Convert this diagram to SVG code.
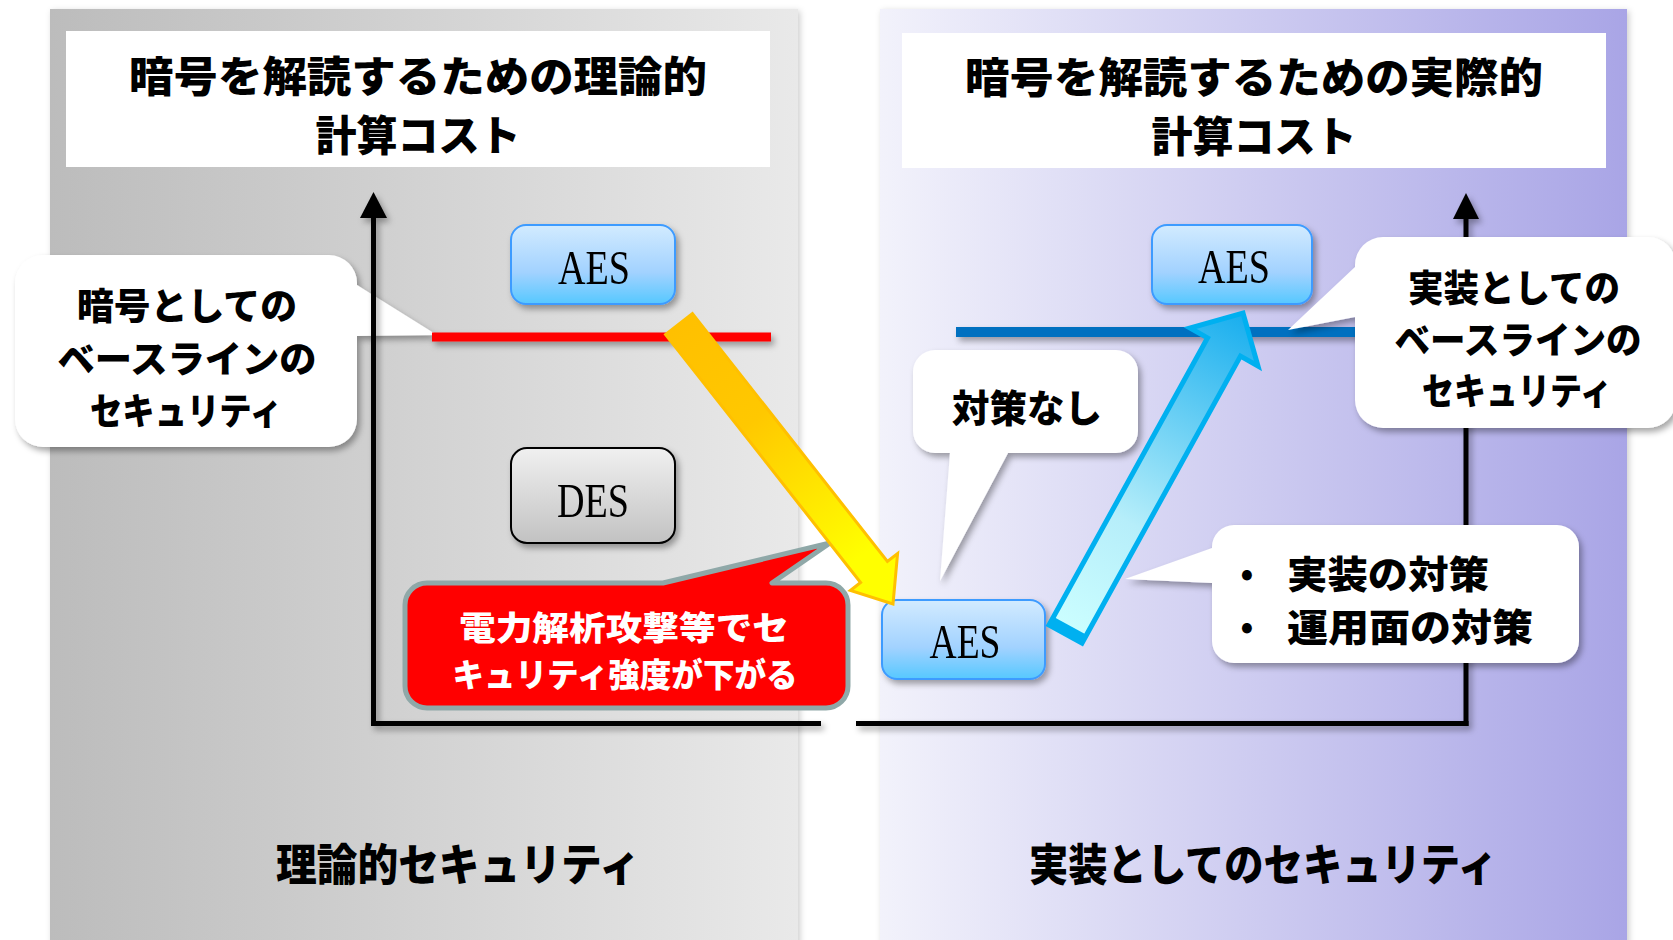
<svg xmlns="http://www.w3.org/2000/svg" width="1673" height="940" viewBox="0 0 1673 940">
<defs>
<linearGradient id="panelL" x1="0" y1="0" x2="1" y2="0"><stop offset="0" stop-color="#bcbcbc"/><stop offset="1" stop-color="#e9e9e9"/></linearGradient>
<linearGradient id="panelR" x1="0" y1="0" x2="1" y2="0"><stop offset="0" stop-color="#f2f2fb"/><stop offset="1" stop-color="#a9a5e6"/></linearGradient>
<linearGradient id="blueBox" x1="0" y1="0" x2="0" y2="1"><stop offset="0" stop-color="#d2ebff"/><stop offset="0.6" stop-color="#a2d2ff"/><stop offset="1" stop-color="#56c8ff"/></linearGradient>
<linearGradient id="grayBox" x1="0" y1="0" x2="0" y2="1"><stop offset="0" stop-color="#f0f0f0"/><stop offset="1" stop-color="#c2c2c2"/></linearGradient>
<linearGradient id="yellowArr" gradientUnits="userSpaceOnUse" x1="679" y1="324" x2="890" y2="600"><stop offset="0" stop-color="#ffc000"/><stop offset="0.35" stop-color="#ffc800"/><stop offset="0.85" stop-color="#ffff00"/><stop offset="1" stop-color="#ffff00"/></linearGradient>
<linearGradient id="blueArr" gradientUnits="userSpaceOnUse" x1="1065" y1="634" x2="1243" y2="313"><stop offset="0" stop-color="#ccffff"/><stop offset="0.35" stop-color="#b6eefa"/><stop offset="1" stop-color="#18aeee"/></linearGradient>
<filter id="sh" x="-10%" y="-10%" width="130%" height="140%"><feDropShadow dx="3" dy="4" stdDeviation="3" flood-color="#000" flood-opacity="0.35"/></filter>
<filter id="shp" x="-5%" y="-5%" width="110%" height="110%"><feDropShadow dx="2" dy="2" stdDeviation="3" flood-color="#000" flood-opacity="0.2"/></filter>
<style>
.jp{font-family:"Noto Sans CJK JP","Noto Sans CJK SC",sans-serif;font-weight:900;fill:#000;text-anchor:middle;dominant-baseline:central}
.w{fill:#fff}
.lat{font-family:"Liberation Serif",serif;font-size:48px;fill:#000;text-anchor:middle}
.axis{stroke:#000;stroke-width:5;fill:none}
.callout{fill:#fff}
.bbox{fill:url(#blueBox);stroke:#3d9bff;stroke-width:2}
</style>
</defs>

<g id="panel-left">
<rect x="50" y="9" width="748" height="940" fill="url(#panelL)" filter="url(#shp)"/>
</g>
<g id="panel-right">
<rect x="880" y="9" width="747" height="940" fill="url(#panelR)" filter="url(#shp)"/>
</g>

<g id="title-left">
<rect x="66" y="31" width="704" height="136" fill="#fff"/>
<text class="jp" x="418" y="73" font-size="42" textLength="578" lengthAdjust="spacingAndGlyphs">暗号を解読するための理論的</text>
<text class="jp" x="418" y="132" font-size="42" textLength="205" lengthAdjust="spacingAndGlyphs">計算コスト</text>
</g>
<g id="title-right">
<rect x="902" y="33" width="704" height="135" fill="#fff"/>
<text class="jp" x="1254" y="74" font-size="42" textLength="578" lengthAdjust="spacingAndGlyphs">暗号を解読するための実際的</text>
<text class="jp" x="1254" y="133" font-size="42" textLength="205" lengthAdjust="spacingAndGlyphs">計算コスト</text>
</g>

<g id="callout-left" filter="url(#sh)">
<path class="callout" d="M43,255 H329 A28,28 0 0 1 357,283 L357,285 L437,335 L357,336 V419 A28,28 0 0 1 329,447 H43 A28,28 0 0 1 15,419 V283 A28,28 0 0 1 43,255 Z"/>
</g>
<g id="callout-left-text">
<text class="jp" x="187" y="304" font-size="37" textLength="220" lengthAdjust="spacingAndGlyphs">暗号としての</text>
<text class="jp" x="187" y="357" font-size="37" textLength="259" lengthAdjust="spacingAndGlyphs">ベースラインの</text>
<text class="jp" x="186" y="409" font-size="37" textLength="192" lengthAdjust="spacingAndGlyphs">セキュリティ</text>
</g>

<g id="connectors">
<g filter="url(#sh)">
<line class="axis" x1="373.5" y1="216" x2="373.5" y2="726"/>
<line class="axis" x1="371" y1="723.5" x2="821" y2="723.5"/>
<polygon points="373.5,192 360,218 387,218" fill="#000"/>
<line class="axis" x1="856" y1="723.5" x2="1468.5" y2="723.5"/>
<line class="axis" x1="1466" y1="726" x2="1466" y2="217"/>
<polygon points="1466,193 1453,219 1479,219" fill="#000"/>
<line x1="432" y1="337" x2="771" y2="337" stroke="#ff0000" stroke-width="9"/>
<line x1="956" y1="332" x2="1360" y2="332" stroke="#0070c0" stroke-width="10"/>
</g>
</g>

<g id="aes-left" filter="url(#sh)">
<rect class="bbox" x="511" y="225" width="164" height="79" rx="15"/>
<text class="lat" x="594" y="284" textLength="72" lengthAdjust="spacingAndGlyphs">AES</text>
</g>
<g id="des" filter="url(#sh)">
<rect x="511" y="448" width="164" height="95" rx="16" fill="url(#grayBox)" stroke="#000" stroke-width="2"/>
<text class="lat" x="593" y="517" textLength="72" lengthAdjust="spacingAndGlyphs">DES</text>
</g>
<g id="aes-right-top" filter="url(#sh)">
<rect class="bbox" x="1152" y="225" width="160" height="79" rx="15"/>
<text class="lat" x="1234" y="283" textLength="72" lengthAdjust="spacingAndGlyphs">AES</text>
</g>
<g id="aes-right-bottom" filter="url(#sh)">
<rect class="bbox" x="882" y="600" width="163" height="79" rx="15"/>
<text class="lat" x="965" y="658" textLength="71" lengthAdjust="spacingAndGlyphs">AES</text>
</g>

<g id="callout-none">
<path class="callout" filter="url(#sh)" d="M935,350 H1116 A22,22 0 0 1 1138,372 V431 A22,22 0 0 1 1116,453 H1008 L940,581 L950,453 H935 A22,22 0 0 1 913,431 V372 A22,22 0 0 1 935,350 Z"/>
<text class="jp" x="1027" y="405" font-size="38" textLength="150" lengthAdjust="spacingAndGlyphs">対策なし</text>
</g>

<g id="callout-measures">
<path class="callout" filter="url(#sh)" d="M1234,525 H1557 A22,22 0 0 1 1579,547 V641 A22,22 0 0 1 1557,663 H1234 A22,22 0 0 1 1212,641 V583 L1125,579 L1212,548 V547 A22,22 0 0 1 1234,525 Z"/>
<text class="jp" x="1247" y="571" font-size="32">•</text>
<text class="jp" x="1247" y="624" font-size="32">•</text>
<text class="jp" x="1388" y="571" font-size="38" textLength="202" lengthAdjust="spacingAndGlyphs">実装の対策</text>
<text class="jp" x="1410" y="624" font-size="38" textLength="246" lengthAdjust="spacingAndGlyphs">運用面の対策</text>
</g>

<g id="callout-impl">
<path class="callout" filter="url(#sh)" d="M1383,237 H1648 A28,28 0 0 1 1676,265 V400 A28,28 0 0 1 1648,428 H1383 A28,28 0 0 1 1355,400 V317 L1288,330 L1355,267 V265 A28,28 0 0 1 1383,237 Z"/>
<text class="jp" x="1514" y="286" font-size="37" textLength="212" lengthAdjust="spacingAndGlyphs">実装としての</text>
<text class="jp" x="1518" y="338" font-size="37" textLength="247" lengthAdjust="spacingAndGlyphs">ベースラインの</text>
<text class="jp" x="1517" y="389" font-size="37" textLength="190" lengthAdjust="spacingAndGlyphs">セキュリティ</text>
</g>

<g id="callout-red">
<path d="M427,583 H663 L830,543 L772,583 H826 A22,22 0 0 1 848,605 V686 A22,22 0 0 1 826,708 H427 A22,22 0 0 1 405,686 V605 A22,22 0 0 1 427,583 Z" fill="#ff0000" stroke="#8fa8a8" stroke-width="5" stroke-linejoin="round"/>
<text class="jp w" x="624" y="626" font-size="33" textLength="330" lengthAdjust="spacingAndGlyphs">電力解析攻撃等でセ</text>
<text class="jp w" x="625" y="673" font-size="33" textLength="345" lengthAdjust="spacingAndGlyphs">キュリティ強度が下がる</text>
</g>

<g id="arrow-down">
<polygon points="665.6,334.5 860.6,582.5 850.4,590.5 893,604 897.6,553.5 887.4,561.5 692.4,313.5" fill="url(#yellowArr)" stroke="#ffc000" stroke-width="3" stroke-linejoin="miter"/>
</g>
<g id="arrow-up">
<polygon points="1049,625 1207.5,337.9 1190,328 1243,313 1258,366 1240.5,356.1 1082,643" fill="url(#blueArr)" stroke="#00b0f0" stroke-width="5" stroke-linejoin="miter"/>
<line x1="1051" y1="620" x2="1084" y2="638" stroke="#00b0f0" stroke-width="8"/>
</g>

<g id="label-left">
<text class="jp" x="458" y="862" font-size="44" textLength="364" lengthAdjust="spacingAndGlyphs">理論的セキュリティ</text>
</g>
<g id="label-right">
<text class="jp" x="1263" y="862" font-size="44" textLength="468" lengthAdjust="spacingAndGlyphs">実装としてのセキュリティ</text>
</g>
</svg>
